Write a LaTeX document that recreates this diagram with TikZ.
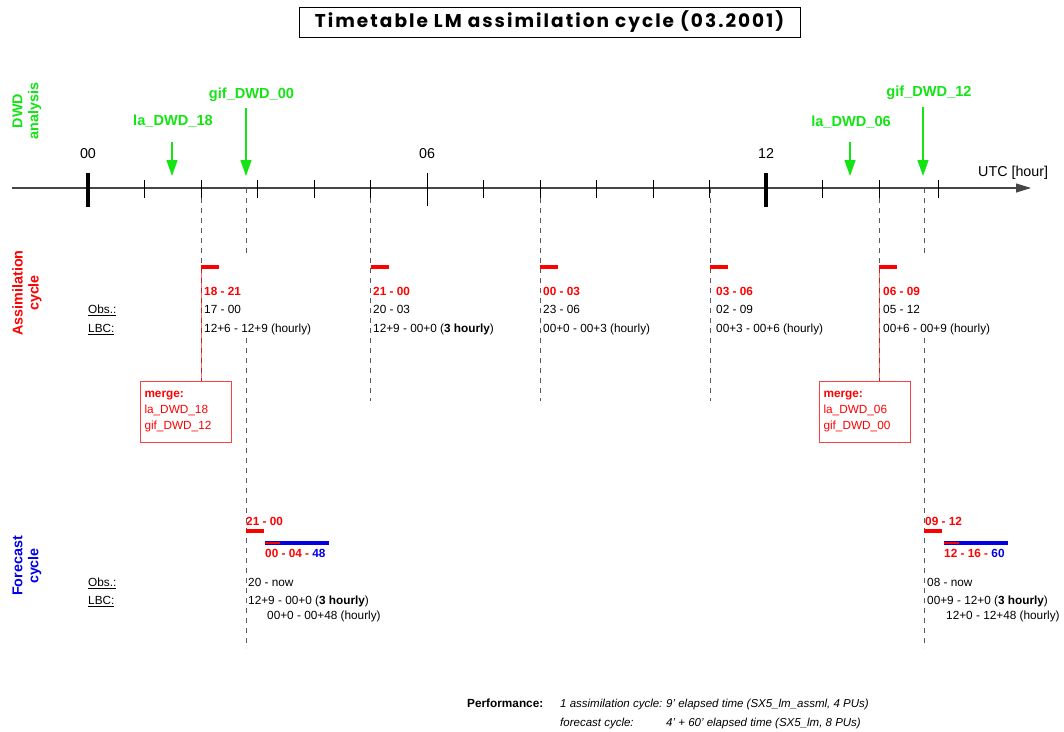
\documentclass[tikz,border=0pt]{standalone}
\usepackage{fontspec}
\setmainfont{Liberation Sans}
\newfontfamily\titlefont[LetterSpace=11]{Poppins}
\usetikzlibrary{arrows.meta}
\definecolor{dwdgreen}{RGB}{20,228,20}
\definecolor{lmred}{RGB}{255,0,0}
\definecolor{lmblue}{RGB}{0,0,235}
\definecolor{axisgray}{RGB}{70,70,70}
\begin{document}
\begin{tikzpicture}[x=1pt,y=-1pt,
  base/.style={inner sep=0pt,anchor=west,text depth=0pt},
  tn/.style={base,font=\fontsize{11.8}{13}\selectfont,text height=8.5pt},
  tb/.style={tn,font=\fontsize{11.8}{13}\selectfont\bfseries},
  redlbl/.style={tb,text=lmred},
  ti/.style={base,font=\fontsize{11.5}{13}\selectfont\itshape,text height=8.3pt},
  hourlbl/.style={base,anchor=center,font=\fontsize{14.3}{16}\selectfont,text height=10.2pt},
  greenlbl/.style={base,anchor=center,text=dwdgreen,font=\fontsize{14.6}{16}\selectfont\bfseries,text height=10.5pt},
  side/.style={rotate=90,align=center,inner sep=0pt,font=\fontsize{14.3}{16}\selectfont\bfseries},
  axisline/.style={draw=axisgray,line width=1.1pt,-{Triangle[length=15pt,width=9pt]}},
  tick/.style={draw=black,line width=1pt},
  bigtick/.style={draw=black,line width=4pt},
  dashline/.style={draw=black!65,line width=0.9pt,dash pattern=on 5pt off 5pt},
  redline/.style={draw=lmred,line width=1pt,opacity=0.6},
  garrow/.style={draw=dwdgreen,line width=1.2pt,-{Triangle[length=16pt,width=11pt]}},
  abar/.style={draw=lmred,line width=4.5pt},
  fbar/.style={draw=lmblue,line width=4.5pt},
  fbarred/.style={draw=lmred,line width=2.5pt},
  mergebox/.style={draw=lmred!75,line width=1pt,anchor=north west,inner sep=4pt,
    text width=83pt,minimum height=61pt,align=left,text=lmred,
    font=\fontsize{11.8}{16}\selectfont},
]
\useasboundingbox (0,0) rectangle (1064,731);

% ---------- title ----------
\node[draw,line width=1pt,minimum width=501pt,minimum height=30pt,inner sep=0pt,
  font=\titlefont\fontsize{18.5}{22}\selectfont\bfseries] (title) at (549.5,22)
  {Timetable LM assimilation cycle (03.2001)};

% ---------- side labels ----------
\node[side,text=dwdgreen] (sideDWD) at (27,111) {DWD\\analysis};
\node[side,text=lmred] (sideAss) at (27,293) {Assimilation\\cycle};
\node[side,text=lmblue] (sideFc) at (27,566) {Forecast\\cycle};

% ---------- dashed verticals ----------
\coordinate (d2t) at (201,188);   \coordinate (d2b) at (201,381);
\coordinate (d5t) at (370.5,188); \coordinate (d5b) at (370.5,401);
\coordinate (d8t) at (540,188);   \coordinate (d8b) at (540,401);
\coordinate (d11t) at (710,188);  \coordinate (d11b) at (710,401);
\coordinate (d14t) at (879,188);  \coordinate (d14b) at (879,381);
\coordinate (fLt) at (246,188); \coordinate (fLg1) at (246,257);
\coordinate (fLg2) at (246,338); \coordinate (fLb) at (246,648);
\coordinate (fRt) at (924,188); \coordinate (fRg1) at (924,257);
\coordinate (fRg2) at (924,338); \coordinate (fRb) at (924,648);
\draw[dashline] (d2t) -- (d2b);
\draw[dashline] (d5t) -- (d5b);
\draw[dashline] (d8t) -- (d8b);
\draw[dashline] (d11t) -- (d11b);
\draw[dashline] (d14t) -- (d14b);
\draw[dashline] (fLt) -- (fLg1);
\draw[dashline] (fLg2) -- (fLb);
\draw[dashline] (fRt) -- (fRg1);
\draw[dashline] (fRg2) -- (fRb);

% ---------- time axis ----------
\coordinate (axL) at (12,188);
\coordinate (axR) at (1031,188);
\draw[axisline] (axL) -- (axR);
\foreach \h in {1,2,3,4,5,7,8,9,10,11,13,14}{
  \draw[tick] ({88+56.5*\h},180) -- ({88+56.5*\h},198);
}
\draw[tick] (938,180) -- (938,198);
\draw[bigtick] (88,173) -- (88,207);
\draw[tick] (427,173) -- (427,206);
\draw[bigtick] (766,173) -- (766,207);
\node[hourlbl] (h00) at (88,153) {00};
\node[hourlbl] (h06) at (427,153) {06};
\node[hourlbl] (h12) at (766,153) {12};
\node[hourlbl,anchor=west] (utc) at (978,171) {UTC [hour]};

% ---------- DWD analyses ----------
\node[greenlbl] (la18) at (173,120) {la\_DWD\_18};
\node[greenlbl] (gif00) at (251.5,93) {gif\_DWD\_00};
\node[greenlbl] (la06) at (851,121) {la\_DWD\_06};
\node[greenlbl] (gif12) at (929,91) {gif\_DWD\_12};
\coordinate (la18s) at (172,142);  \coordinate (la18e) at (172,176);
\coordinate (gif00s) at (246,108); \coordinate (gif00e) at (246,176);
\coordinate (la06s) at (850,142);  \coordinate (la06e) at (850,176);
\coordinate (gif12s) at (923,107); \coordinate (gif12e) at (923,176);
\draw[garrow] (la18s) -- (la18e);
\draw[garrow] (gif00s) -- (gif00e);
\draw[garrow] (la06s) -- (la06e);
\draw[garrow] (gif12s) -- (gif12e);

% ---------- assimilation cycle ----------
\node[tn] (obsA) at (88,309) {\underline{Obs.:}};
\node[tn] (lbcA) at (88,328) {\underline{LBC:}};

\coordinate (a1) at (201,267);
\coordinate (a2) at (370.5,267);
\coordinate (a3) at (540,267);
\coordinate (a4) at (710,267);
\coordinate (a5) at (879,267);
\foreach \c in {a1,a2,a3,a4,a5}{ \draw[abar] (\c) -- ++(18,0); }

\node[redlbl] (a1t) at (204,291) {18 - 21};
\node[tn] (a1o) at (204,309) {17 - 00};
\node[tn] (a1l) at (204,328) {12+6 - 12+9 (hourly)};

\node[redlbl] (a2t) at (373,291) {21 - 00};
\node[tn] (a2o) at (373,309) {20 - 03};
\node[tn] (a2l) at (373,328) {12+9 - 00+0 (\textbf{3 hourly})};

\node[redlbl] (a3t) at (543,291) {00 - 03};
\node[tn] (a3o) at (543,309) {23 - 06};
\node[tn] (a3l) at (543,328) {00+0 - 00+3 (hourly)};

\node[redlbl] (a4t) at (716,291) {03 - 06};
\node[tn] (a4o) at (716,309) {02 - 09};
\node[tn] (a4l) at (716,328) {00+3 - 00+6 (hourly)};

\node[redlbl] (a5t) at (883,291) {06 - 09};
\node[tn] (a5o) at (883,309) {05 - 12};
\node[tn] (a5l) at (883,328) {00+6 - 00+9 (hourly)};

% merge boxes
\node[mergebox] (mL) at (140,381) {\textbf{merge:}\\la\_DWD\_18\\gif\_DWD\_12};
\node[mergebox] (mR) at (819,381) {\textbf{merge:}\\la\_DWD\_06\\gif\_DWD\_00};
\draw[redline] (a1) -- (a1 |- mL.north);
\draw[redline] (a5) -- (a5 |- mR.north);

% ---------- forecast cycle ----------
\node[tn] (obsF) at (88,582) {\underline{Obs.:}};
\node[tn] (lbcF) at (88,600) {\underline{LBC:}};

% left forecast
\node[redlbl] (fL1) at (246,521) {21 - 00};
\coordinate (fLb1) at (246,531);
\draw[abar] (fLb1) -- ++(18,0);
\coordinate (fLb2) at (265,543);
\draw[fbar] (fLb2) -- ++(64,0);
\draw[fbarred] (fLb2) -- ++(15,0);
\node[tb] (fL2) at (265,553) {\textcolor{lmred}{00 - 04 -} \textcolor{lmblue}{48}};
\node[tn] (fLo) at (248,582) {20 - now};
\node[tn] (fLl1) at (248,600) {12+9 - 00+0 (\textbf{3 hourly})};
\node[tn] (fLl2) at (267,615) {00+0 - 00+48 (hourly)};

% right forecast
\node[redlbl] (fR1) at (925,521) {09 - 12};
\coordinate (fRb1) at (924,531);
\draw[abar] (fRb1) -- ++(18,0);
\coordinate (fRb2) at (944,543);
\draw[fbar] (fRb2) -- ++(64,0);
\draw[fbarred] (fRb2) -- ++(15,0);
\node[tb] (fR2) at (944,553) {\textcolor{lmred}{12 - 16 -} \textcolor{lmblue}{60}};
\node[tn] (fRo) at (927,582) {08 - now};
\node[tn] (fRl1) at (927,600) {00+9 - 12+0 (\textbf{3 hourly})};
\node[tn] (fRl2) at (946,615) {12+0 - 12+48 (hourly)};

% ---------- performance ----------
\node[tb] (perf) at (467,703) {Performance:};
\node[ti] (p1a) at (560,703) {1 assimilation cycle:};
\node[ti] (p1b) at (666,703) {9' elapsed time (SX5\_lm\_assml, 4 PUs)};
\node[ti] (p2a) at (560,722) {forecast cycle:};
\node[ti] (p2b) at (666,722) {4' + 60' elapsed time (SX5\_lm, 8 PUs)};
\end{tikzpicture}
\end{document}
